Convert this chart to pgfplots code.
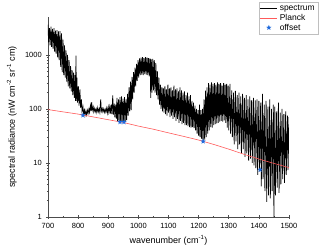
\documentclass[border=0pt]{standalone}
\usepackage{pgfplots}
\pgfplotsset{compat=1.18}
\usepackage{fontspec}
\setmainfont{Liberation Sans}
\definecolor{planck}{RGB}{255,90,90}
\definecolor{starblue}{RGB}{30,105,220}
\pgfdeclareplotmark{fstar}{%
  \pgfpathmoveto{\pgfpointpolar{90}{\pgfplotmarksize}}%
  \pgfpathlineto{\pgfpointpolar{126}{0.42\pgfplotmarksize}}%
  \pgfpathlineto{\pgfpointpolar{162}{\pgfplotmarksize}}%
  \pgfpathlineto{\pgfpointpolar{198}{0.42\pgfplotmarksize}}%
  \pgfpathlineto{\pgfpointpolar{234}{\pgfplotmarksize}}%
  \pgfpathlineto{\pgfpointpolar{270}{0.42\pgfplotmarksize}}%
  \pgfpathlineto{\pgfpointpolar{306}{\pgfplotmarksize}}%
  \pgfpathlineto{\pgfpointpolar{342}{0.42\pgfplotmarksize}}%
  \pgfpathlineto{\pgfpointpolar{18}{\pgfplotmarksize}}%
  \pgfpathlineto{\pgfpointpolar{54}{0.42\pgfplotmarksize}}%
  \pgfpathclose
  \pgfusepathqfill}
\begin{document}
\begin{tikzpicture}
\useasboundingbox (-48pt,-34pt) rectangle (272pt,217pt);
\begin{axis}[
  scale only axis, width=241pt, height=200pt,
  xmin=700, xmax=1500, ymode=log, ymin=1, ymax=5000,
  axis x line*=bottom, axis y line*=left,
  axis line style={black!70, line width=0.6pt},
  xtick={700,800,...,1500}, minor x tick num=1,
  ytick={1,10,100,1000}, log ticks with fixed point,
  tick align=center, major tick length=3.5pt, minor tick length=2pt,
  tick style={black!70, line width=0.5pt},
  /pgf/number format/assume math mode=true,
  /pgf/number format/1000 sep={},
  tick label style={font=\fontsize{7.5}{9}\selectfont},
  xticklabel style={yshift=-1pt},
  yticklabel style={xshift=-1pt},
  xlabel={wavenumber (cm\textsuperscript{-1})},
  ylabel={spectral radiance (nW cm\textsuperscript{-2} sr\textsuperscript{-1} cm)},
  label style={font=\fontsize{9}{10.5}\selectfont},
  xlabel style={at={(axis description cs:0.5,-0.115)}, anchor=center},
  ylabel style={at={(axis description cs:-0.15,0.5)}, anchor=center},
  legend style={at={(axis description cs:1.12,1.075)}, anchor=north east,
    draw=black!25, font=\fontsize{8.5}{10}\selectfont, inner sep=1pt,
    row sep=-2pt},
  legend cell align=left,
]
\addplot[black, line width=0.75pt] coordinates {
(700,3600) (702,1700) (705,3100) (707,1500) (710,3300) (712,1400) (715,3000) (717,1300) (720,3100) (722,1150) (725,2800) (727,1050) (730,2850) (732,900) (735,2700) (737,800) (740,2750) (742,600) (745,2500) (747,480) (750,1900) (752,420) (755,1500) (757,380) (760,1200) (762,320) (765,1000) (767,260) (770,800) (772,240) (775,620) (777,210) (780,520) (782,180) (785,470) (787,160) (790,420) (791,140) (793,960) (794,140) (796,380) (798,130) (801,260) (803,115) (806,230) (808,105) (811,150) (813,90) (816,110) (818,80) (821,95) (823,76) (826,92) (828,78) (831,94) (833,82) (836,100) (838,86) (841,115) (843,92) (845,133) (847,95) (850,110) (852,88) (855,102) (857,88) (860,100) (862,86) (865,105) (867,88) (870,100) (872,87) (875,150) (877,90) (880,102) (882,88) (885,100) (887,86) (890,98) (892,87) (895,104) (897,84) (900,108) (902,86) (905,110) (907,82) (910,120) (912,80) (915,177) (917,78) (920,125) (922,70) (925,120) (927,66) (929,160) (931,60) (934,150) (936,58) (939,165) (941,56) (944,170) (946,57) (949,155) (951,56) (954,165) (956,58) (959,150) (961,62) (964,190) (966,75) (969,250) (971,90) (974,320) (976,95) (979,390) (981,150) (984,480) (986,200) (989,580) (991,260) (994,680) (996,330) (999,800) (1001,380) (1004,860) (1006,420) (1009,890) (1011,430) (1014,900) (1016,420) (1019,880) (1021,440) (1024,900) (1026,430) (1029,890) (1031,420) (1034,870) (1036,400) (1039,850) (1041,160) (1043,820) (1045,200) (1048,840) (1050,220) (1053,800) (1055,200) (1058,700) (1060,180) (1063,500) (1065,150) (1068,380) (1070,120) (1073,280) (1075,100) (1078,250) (1080,90)
(1083,240) (1085,85) (1088,260) (1090,80) (1093,230) (1095,75) (1098,280) (1100,85) (1103,240) (1105,70) (1108,250) (1110,75) (1113,220) (1115,65) (1118,270) (1120,70) (1123,230) (1125,60) (1128,240) (1130,65) (1133,210) (1135,55) (1138,250) (1140,60) (1143,220) (1145,52) (1148,200) (1150,55) (1153,210) (1155,50) (1158,180) (1160,50) (1163,200) (1165,48) (1168,170) (1170,46) (1173,180) (1175,45) (1178,140) (1180,46) (1183,130) (1185,44) (1188,115) (1190,40) (1193,100) (1195,35) (1198,95) (1200,32) (1203,120) (1205,30) (1208,95) (1210,28) (1213,100) (1215,25) (1218,150) (1220,27) (1223,218) (1225,30) (1228,250) (1230,35) (1233,300) (1235,40) (1238,280) (1240,46) (1243,310) (1245,45) (1248,290) (1250,50) (1253,300) (1255,52) (1258,280) (1260,54) (1263,310) (1265,55) (1268,290) (1270,58) (1273,300) (1275,60) (1278,270) (1280,58) (1283,300) (1285,61) (1288,280) (1290,55) (1293,290) (1295,45) (1298,270) (1300,40) (1304,290) (1306,35) (1310,220) (1312,30) (1316,200) (1318,22) (1322,215) (1324,25) (1328,180) (1330,18) (1334,200) (1336,22) (1340,170) (1342,15) (1346,190) (1348,18) (1352,160) (1354,13) (1358,180) (1360,15) (1364,150) (1366,11) (1370,170) (1372,12) (1376,145) (1378,10) (1382,160) (1384,9) (1388,143) (1390,8) (1394,150) (1396,6) (1400,140) (1402,7) (1406,130) (1408,3.7) (1412,190) (1414,5) (1418,120) (1420,3) (1424,140) (1426,1.9) (1430,110) (1432,2.5) (1436,150) (1438,2.2) (1442,100) (1444,3) (1448,120) (1450,1.0) (1453,110) (1455,2.5) (1459,90) (1461,3.5) (1465,130) (1467,2.8) (1471,85) (1473,4) (1477,100) (1479,5) (1483,80) (1485,4.3) (1489,90) (1491,6) (1495,75) (1497,7.4) (1500,70)
};
\addlegendentry{spectrum}
\addplot[planck, line width=0.6pt] coordinates {
(700,97) (750,88) (800,80) (850,71) (900,63) (950,56) (1000,48) (1050,42) (1100,36) (1150,31) (1200,26.5) (1250,22) (1300,18) (1350,14.5) (1400,11.8) (1450,9.8) (1500,8.2)
};
\addlegendentry{Planck}
\addplot[only marks, mark=fstar, mark size=2.8pt, starblue] coordinates {
(816,76) (939,57) (952,57) (1215,25) (1404,7.5)
};
\addlegendentry{offset}
\end{axis}
\end{tikzpicture}
\end{document}
